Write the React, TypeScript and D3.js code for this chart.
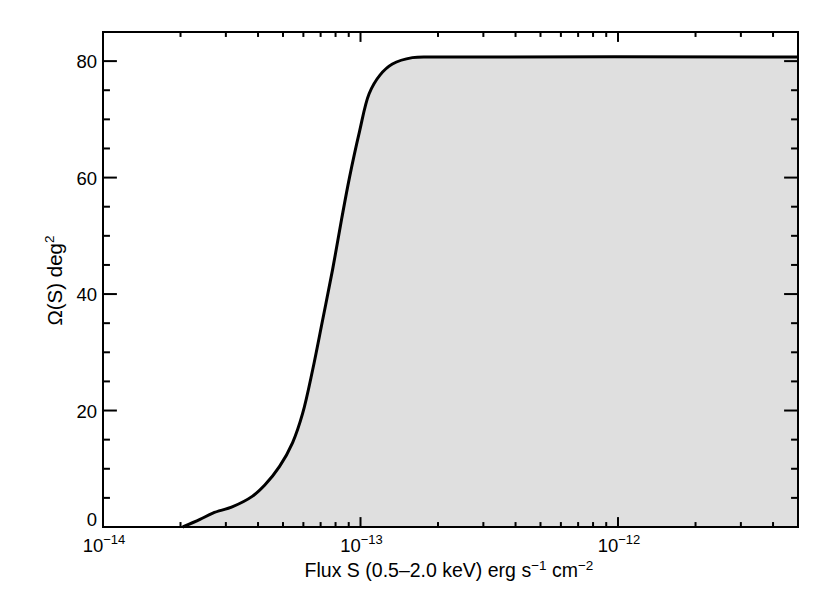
import * as d3 from 'd3';

// curve: flux (erg s^-1 cm^-2) and area (deg^2)
const flux = [2.04e-14, 2.38e-14, 2.67e-14, 3.19e-14, 3.81e-14, 4.25e-14, 4.85e-14, 5.45e-14,
    5.96e-14, 6.52e-14, 7.13e-14, 7.79e-14, 8.44e-14, 9.06e-14, 9.91e-14, 1.08e-13, 1.19e-13,
    1.33e-13, 1.59e-13, 2.02e-13, 5e-12];
const area = [0, 1.3, 2.4, 3.5, 5.3, 7.2, 10.4, 14.5, 19.5, 27.0, 35.6, 44.2, 52.8, 60.0, 67.9,
    74.4, 77.6, 79.5, 80.6, 80.7, 80.7];

const xMajor = [-14, -13, -12];
const yMajor = [0, 20, 40, 60, 80];

const width = 830;
const height = 593;
const margin = { top: 32, right: 32, bottom: 66, left: 103 };
const font = '"Liberation Sans", Arial, Helvetica, sans-serif';

function App() {
    const drawW = width - margin.left - margin.right;
    const drawH = height - margin.top - margin.bottom;

    const x = d3.scaleLog().domain([1e-14, 5e-12]).range([margin.left, margin.left + drawW]);
    const y = d3.scaleLinear().domain([0, 85]).range([margin.top + drawH, margin.top]);

    const pts = flux.map((f, i) => [f, area[i]]);
    const line = d3.line().x(d => x(d[0])).y(d => y(d[1])).curve(d3.curveCatmullRom.alpha(0.5));
    const fill = d3.area().x(d => x(d[0])).y0(y(0)).y1(d => y(d[1])).curve(d3.curveCatmullRom.alpha(0.5));

    // IDL style ticks: length is a fraction of the other dimension
    const xTickLen = 0.02 * drawH;
    const yTickLen = 0.02 * drawW;

    const xMinor = [];
    for (let e = -14; e <= -12; e++) {
        for (let m = 2; m <= 9; m++) {
            const v = m * Math.pow(10, e);
            if (v <= 5e-12) xMinor.push(v);
        }
    }
    const yMinor = d3.range(0, 86, 5).filter(v => v % 20 !== 0);

    const left = margin.left, right = margin.left + drawW;
    const top = margin.top, bottom = margin.top + drawH;

    return (
        <svg width={width} height={height} style={{ position: 'absolute', left: 0, top: 0, background: '#fff' }}
            fontFamily={font}>
            <path d={fill(pts)} fill='#dfdfdf' />
            <path d={line(pts)} fill='none' stroke='#000' strokeWidth={3} strokeLinejoin='round' />

            <g stroke='#000' strokeWidth={2}>
                {/* x ticks bottom + top */}
                {xMajor.map(e => {
                    const px = x(Math.pow(10, e));
                    return <g key={'xM' + e}>
                        <line x1={px} x2={px} y1={bottom} y2={bottom - xTickLen} />
                        <line x1={px} x2={px} y1={top} y2={top + xTickLen} />
                    </g>;
                })}
                {xMinor.map(v => (
                    <g key={'xm' + v}>
                        <line x1={x(v)} x2={x(v)} y1={bottom} y2={bottom - xTickLen / 2} />
                        <line x1={x(v)} x2={x(v)} y1={top} y2={top + xTickLen / 2} />
                    </g>
                ))}
                {/* y ticks left + right */}
                {yMajor.map(v => (
                    <g key={'yM' + v}>
                        <line x1={left} x2={left + yTickLen} y1={y(v)} y2={y(v)} />
                        <line x1={right} x2={right - yTickLen} y1={y(v)} y2={y(v)} />
                    </g>
                ))}
                {yMinor.map(v => (
                    <g key={'ym' + v}>
                        <line x1={left} x2={left + yTickLen / 2} y1={y(v)} y2={y(v)} />
                        <line x1={right} x2={right - yTickLen / 2} y1={y(v)} y2={y(v)} />
                    </g>
                ))}
                <rect x={left} y={top} width={drawW} height={drawH} fill='none' />
            </g>

            {/* tick labels */}
            <g fontSize={18.5} fill='#000'>
                {yMajor.map(v => (
                    <text key={'yl' + v} x={left - 6} y={y(v) + (v === 0 ? -1 : 7)} textAnchor='end'>{v}</text>
                ))}
                {xMajor.map(e => (
                    <text key={'xl' + e} x={x(Math.pow(10, e)) + 1} y={bottom + 25} textAnchor='middle'>
                        10<tspan fontSize={13} dy={-8}>{'\u2212' + Math.abs(e)}</tspan>
                    </text>
                ))}
            </g>

            {/* axis titles */}
            <text x={(left + right) / 2 - 1.5} y={bottom + 50} textAnchor='middle' fontSize={19.5}>
                Flux S (0.5–2.0 keV) erg s<tspan fontSize={13.5} dy={-7}>−1</tspan>
                <tspan dy={7}> cm</tspan><tspan fontSize={13.5} dy={-7}>−2</tspan>
            </text>
            <text transform={`translate(62, ${(top + bottom) / 2 + 1}) rotate(-90)`} textAnchor='middle' fontSize={20.5}>
                Ω(S) deg<tspan fontSize={13.5} dy={-8}>2</tspan>
            </text>
        </svg>
    );
}

export default App;
